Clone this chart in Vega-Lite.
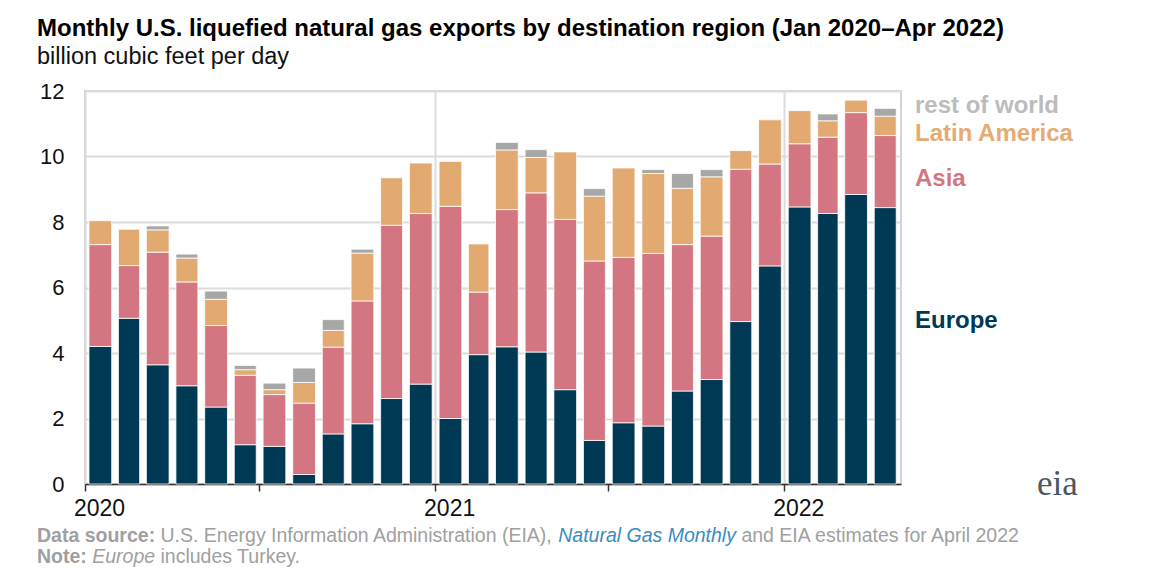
{
  "$schema": "https://vega.github.io/schema/vega-lite/v6.json",
  "width": 816,
  "height": 393,
  "autosize": {"type": "none"},
  "padding": {"left": 85, "top": 91, "right": 254, "bottom": 84},
  "background": "white",
  "config": {
    "view": {"stroke": "#d4d4d4", "strokeWidth": 2},
    "font": "Liberation Sans"
  },
  "title": {
    "text": "Monthly U.S. liquefied natural gas exports by destination region (Jan 2020–Apr 2022)",
    "subtitle": "billion cubic feet per day",
    "anchor": "start",
    "frame": "group",
    "dx": -48,
    "offset": 12,
    "font": "Liberation Sans",
    "fontSize": 24,
    "fontWeight": "bold",
    "color": "#000000",
    "subtitleFont": "Liberation Sans",
    "subtitleFontSize": 23.5,
    "subtitleColor": "#111111",
    "subtitlePadding": 4
  },
  "data": {
    "values": [
      {"month": "2020-01-15", "region": "Europe", "value": 4.20},
      {"month": "2020-01-15", "region": "Asia", "value": 3.11},
      {"month": "2020-01-15", "region": "Latin America", "value": 0.73},
      {"month": "2020-02-15", "region": "Europe", "value": 5.06},
      {"month": "2020-02-15", "region": "Asia", "value": 1.61},
      {"month": "2020-02-15", "region": "Latin America", "value": 1.11},
      {"month": "2020-03-15", "region": "Europe", "value": 3.64},
      {"month": "2020-03-15", "region": "Asia", "value": 3.44},
      {"month": "2020-03-15", "region": "Latin America", "value": 0.68},
      {"month": "2020-03-15", "region": "rest of world", "value": 0.12},
      {"month": "2020-04-15", "region": "Europe", "value": 3.00},
      {"month": "2020-04-15", "region": "Asia", "value": 3.17},
      {"month": "2020-04-15", "region": "Latin America", "value": 0.73},
      {"month": "2020-04-15", "region": "rest of world", "value": 0.12},
      {"month": "2020-05-15", "region": "Europe", "value": 2.35},
      {"month": "2020-05-15", "region": "Asia", "value": 2.49},
      {"month": "2020-05-15", "region": "Latin America", "value": 0.80},
      {"month": "2020-05-15", "region": "rest of world", "value": 0.25},
      {"month": "2020-06-15", "region": "Europe", "value": 1.20},
      {"month": "2020-06-15", "region": "Asia", "value": 2.12},
      {"month": "2020-06-15", "region": "Latin America", "value": 0.17},
      {"month": "2020-06-15", "region": "rest of world", "value": 0.13},
      {"month": "2020-07-15", "region": "Europe", "value": 1.15},
      {"month": "2020-07-15", "region": "Asia", "value": 1.58},
      {"month": "2020-07-15", "region": "Latin America", "value": 0.15},
      {"month": "2020-07-15", "region": "rest of world", "value": 0.20},
      {"month": "2020-08-15", "region": "Europe", "value": 0.29},
      {"month": "2020-08-15", "region": "Asia", "value": 2.18},
      {"month": "2020-08-15", "region": "Latin America", "value": 0.63},
      {"month": "2020-08-15", "region": "rest of world", "value": 0.44},
      {"month": "2020-09-15", "region": "Europe", "value": 1.53},
      {"month": "2020-09-15", "region": "Asia", "value": 2.65},
      {"month": "2020-09-15", "region": "Latin America", "value": 0.51},
      {"month": "2020-09-15", "region": "rest of world", "value": 0.33},
      {"month": "2020-10-15", "region": "Europe", "value": 1.84},
      {"month": "2020-10-15", "region": "Asia", "value": 3.75},
      {"month": "2020-10-15", "region": "Latin America", "value": 1.46},
      {"month": "2020-10-15", "region": "rest of world", "value": 0.12},
      {"month": "2020-11-15", "region": "Europe", "value": 2.61},
      {"month": "2020-11-15", "region": "Asia", "value": 5.29},
      {"month": "2020-11-15", "region": "Latin America", "value": 1.45},
      {"month": "2020-12-15", "region": "Europe", "value": 3.05},
      {"month": "2020-12-15", "region": "Asia", "value": 5.21},
      {"month": "2020-12-15", "region": "Latin America", "value": 1.54},
      {"month": "2021-01-15", "region": "Europe", "value": 2.00},
      {"month": "2021-01-15", "region": "Asia", "value": 6.48},
      {"month": "2021-01-15", "region": "Latin America", "value": 1.37},
      {"month": "2021-02-15", "region": "Europe", "value": 3.95},
      {"month": "2021-02-15", "region": "Asia", "value": 1.91},
      {"month": "2021-02-15", "region": "Latin America", "value": 1.47},
      {"month": "2021-03-15", "region": "Europe", "value": 4.19},
      {"month": "2021-03-15", "region": "Asia", "value": 4.19},
      {"month": "2021-03-15", "region": "Latin America", "value": 1.82},
      {"month": "2021-03-15", "region": "rest of world", "value": 0.23},
      {"month": "2021-04-15", "region": "Europe", "value": 4.03},
      {"month": "2021-04-15", "region": "Asia", "value": 4.86},
      {"month": "2021-04-15", "region": "Latin America", "value": 1.08},
      {"month": "2021-04-15", "region": "rest of world", "value": 0.24},
      {"month": "2021-05-15", "region": "Europe", "value": 2.88},
      {"month": "2021-05-15", "region": "Asia", "value": 5.20},
      {"month": "2021-05-15", "region": "Latin America", "value": 2.06},
      {"month": "2021-06-15", "region": "Europe", "value": 1.33},
      {"month": "2021-06-15", "region": "Asia", "value": 5.48},
      {"month": "2021-06-15", "region": "Latin America", "value": 1.98},
      {"month": "2021-06-15", "region": "rest of world", "value": 0.23},
      {"month": "2021-07-15", "region": "Europe", "value": 1.87},
      {"month": "2021-07-15", "region": "Asia", "value": 5.05},
      {"month": "2021-07-15", "region": "Latin America", "value": 2.73},
      {"month": "2021-08-15", "region": "Europe", "value": 1.77},
      {"month": "2021-08-15", "region": "Asia", "value": 5.27},
      {"month": "2021-08-15", "region": "Latin America", "value": 2.44},
      {"month": "2021-08-15", "region": "rest of world", "value": 0.12},
      {"month": "2021-09-15", "region": "Europe", "value": 2.84},
      {"month": "2021-09-15", "region": "Asia", "value": 4.47},
      {"month": "2021-09-15", "region": "Latin America", "value": 1.72},
      {"month": "2021-09-15", "region": "rest of world", "value": 0.45},
      {"month": "2021-10-15", "region": "Europe", "value": 3.19},
      {"month": "2021-10-15", "region": "Asia", "value": 4.38},
      {"month": "2021-10-15", "region": "Latin America", "value": 1.81},
      {"month": "2021-10-15", "region": "rest of world", "value": 0.22},
      {"month": "2021-11-15", "region": "Europe", "value": 4.96},
      {"month": "2021-11-15", "region": "Asia", "value": 4.65},
      {"month": "2021-11-15", "region": "Latin America", "value": 0.57},
      {"month": "2021-12-15", "region": "Europe", "value": 6.66},
      {"month": "2021-12-15", "region": "Asia", "value": 3.11},
      {"month": "2021-12-15", "region": "Latin America", "value": 1.35},
      {"month": "2022-01-15", "region": "Europe", "value": 8.46},
      {"month": "2022-01-15", "region": "Asia", "value": 1.93},
      {"month": "2022-01-15", "region": "Latin America", "value": 1.01},
      {"month": "2022-02-15", "region": "Europe", "value": 8.26},
      {"month": "2022-02-15", "region": "Asia", "value": 2.33},
      {"month": "2022-02-15", "region": "Latin America", "value": 0.50},
      {"month": "2022-02-15", "region": "rest of world", "value": 0.21},
      {"month": "2022-03-15", "region": "Europe", "value": 8.84},
      {"month": "2022-03-15", "region": "Asia", "value": 2.50},
      {"month": "2022-03-15", "region": "Latin America", "value": 0.38},
      {"month": "2022-04-15", "region": "Europe", "value": 8.44},
      {"month": "2022-04-15", "region": "Asia", "value": 2.20},
      {"month": "2022-04-15", "region": "Latin America", "value": 0.59},
      {"month": "2022-04-15", "region": "rest of world", "value": 0.24}
    ]
  },
  "layer": [
    {
      "transform": [
        {"calculate": "indexof(['Europe','Asia','Latin America','rest of world'], datum.region)", "as": "stackOrder"}
      ],
      "mark": {"type": "bar", "width": {"band": 0.8}, "stroke": "#ffffff", "strokeWidth": 0.8},
      "encoding": {
        "x": {
          "field": "month",
          "timeUnit": "yearmonth",
          "type": "temporal",
          "scale": {"domain": [{"year": 2020, "month": 1, "date": 1}, {"year": 2022, "month": 5, "date": 3}]},
          "axis": {
            "title": null,
            "values": [
              {"year": 2020, "month": 1, "date": 1},
              {"year": 2020, "month": 7, "date": 1},
              {"year": 2021, "month": 1, "date": 1},
              {"year": 2021, "month": 7, "date": 1},
              {"year": 2022, "month": 1, "date": 1}
            ],
            "labelExpr": "month(datum.value) == 0 ? timeFormat(datum.value, '%Y') : ''",
            "labelFont": "Liberation Sans",
            "labelFontSize": 23,
            "labelColor": "#111111",
            "labelOffset": 14,
            "labelPadding": 6,
            "labelFlush": false,
            "labelOverlap": false,
            "tickColor": "#333333",
            "tickSize": 7,
            "tickWidth": 1.5,
            "domainColor": "#333333",
            "domainWidth": 1.5,
            "grid": true,
            "gridColor": {"condition": {"test": "month(datum.value) == 6", "value": "rgba(0,0,0,0)"}, "value": "#dcdcdc"},
            "gridWidth": 2
          }
        },
        "y": {
          "field": "value",
          "type": "quantitative",
          "scale": {"domain": [0, 12]},
          "axis": {
            "title": null,
            "values": [0, 2, 4, 6, 8, 10, 12],
            "ticks": false,
            "domain": false,
            "labelPadding": 21,
            "labelFont": "Liberation Sans",
            "labelFontSize": 22,
            "labelColor": "#111111",
            "gridColor": "#dcdcdc",
            "gridWidth": 2
          }
        },
        "order": {"field": "stackOrder", "type": "quantitative", "sort": "ascending"},
        "color": {
          "field": "region",
          "type": "nominal",
          "scale": {"domain": ["Europe", "Asia", "Latin America", "rest of world"], "range": ["#003953", "#d47681", "#e2a971", "#a7a7a7"]},
          "legend": null
        }
      }
    },
    {
      "data": {"values": [
        {"label": "rest of world", "y": 11.33},
        {"label": "Latin America", "y": 10.48},
        {"label": "Asia", "y": 9.11},
        {"label": "Europe", "y": 4.75}
      ]},
      "mark": {"type": "text", "align": "left", "baseline": "alphabetic", "dx": 14, "font": "Liberation Sans", "fontSize": 24, "fontWeight": "bold"},
      "encoding": {
        "x": {"datum": {"year": 2022, "month": 5, "date": 3}, "type": "temporal"},
        "y": {"field": "y", "type": "quantitative"},
        "text": {"field": "label"},
        "color": {
          "field": "label",
          "type": "nominal",
          "scale": {"domain": ["Europe", "Asia", "Latin America", "rest of world"], "range": ["#003953", "#d47681", "#e5ab74", "#bcbcbc"]},
          "legend": null
        }
      }
    },
    {
      "data": {"values": [{"t": "eia"}]},
      "mark": {"type": "text", "align": "left", "baseline": "alphabetic", "dx": 136, "dy": 11, "font": "Liberation Serif", "fontSize": 35, "color": "#4a5864"},
      "encoding": {
        "x": {"datum": {"year": 2022, "month": 5, "date": 3}, "type": "temporal"},
        "y": {"datum": 0, "type": "quantitative"},
        "text": {"field": "t"}
      }
    },
    {
      "data": {"values": [{"t": "Data source:"}]},
      "mark": {"type": "text", "align": "left", "baseline": "alphabetic", "dx": -48, "dy": 58, "font": "Liberation Sans", "fontSize": 19.5, "fontWeight": "bold", "color": "#a0a0a0"},
      "encoding": {
        "x": {"datum": {"year": 2020, "month": 1, "date": 1}, "type": "temporal"},
        "y": {"datum": 0, "type": "quantitative"},
        "text": {"field": "t"}
      }
    },
    {
      "data": {"values": [{"t": "U.S. Energy Information Administration (EIA),"}]},
      "mark": {"type": "text", "align": "left", "baseline": "alphabetic", "dx": 75.5, "dy": 58, "font": "Liberation Sans", "fontSize": 19.5, "color": "#a0a0a0"},
      "encoding": {
        "x": {"datum": {"year": 2020, "month": 1, "date": 1}, "type": "temporal"},
        "y": {"datum": 0, "type": "quantitative"},
        "text": {"field": "t"}
      }
    },
    {
      "data": {"values": [{"t": "Natural Gas Monthly"}]},
      "mark": {"type": "text", "align": "left", "baseline": "alphabetic", "dx": 473.2, "dy": 58, "font": "Liberation Sans", "fontSize": 19.5, "fontStyle": "italic", "color": "#3b8dbf"},
      "encoding": {
        "x": {"datum": {"year": 2020, "month": 1, "date": 1}, "type": "temporal"},
        "y": {"datum": 0, "type": "quantitative"},
        "text": {"field": "t"}
      }
    },
    {
      "data": {"values": [{"t": "and EIA estimates for April 2022"}]},
      "mark": {"type": "text", "align": "left", "baseline": "alphabetic", "dx": 656.4, "dy": 58, "font": "Liberation Sans", "fontSize": 19.5, "color": "#a0a0a0"},
      "encoding": {
        "x": {"datum": {"year": 2020, "month": 1, "date": 1}, "type": "temporal"},
        "y": {"datum": 0, "type": "quantitative"},
        "text": {"field": "t"}
      }
    },
    {
      "data": {"values": [{"t": "Note:"}]},
      "mark": {"type": "text", "align": "left", "baseline": "alphabetic", "dx": -48, "dy": 79, "font": "Liberation Sans", "fontSize": 19.5, "fontWeight": "bold", "color": "#a0a0a0"},
      "encoding": {
        "x": {"datum": {"year": 2020, "month": 1, "date": 1}, "type": "temporal"},
        "y": {"datum": 0, "type": "quantitative"},
        "text": {"field": "t"}
      }
    },
    {
      "data": {"values": [{"t": "Europe"}]},
      "mark": {"type": "text", "align": "left", "baseline": "alphabetic", "dx": 7.2, "dy": 79, "font": "Liberation Sans", "fontSize": 19.5, "fontStyle": "italic", "color": "#a0a0a0"},
      "encoding": {
        "x": {"datum": {"year": 2020, "month": 1, "date": 1}, "type": "temporal"},
        "y": {"datum": 0, "type": "quantitative"},
        "text": {"field": "t"}
      }
    },
    {
      "data": {"values": [{"t": "includes Turkey."}]},
      "mark": {"type": "text", "align": "left", "baseline": "alphabetic", "dx": 75.5, "dy": 79, "font": "Liberation Sans", "fontSize": 19.5, "color": "#a0a0a0"},
      "encoding": {
        "x": {"datum": {"year": 2020, "month": 1, "date": 1}, "type": "temporal"},
        "y": {"datum": 0, "type": "quantitative"},
        "text": {"field": "t"}
      }
    }
  ],
  "resolve": {"scale": {"color": "independent"}}
}
